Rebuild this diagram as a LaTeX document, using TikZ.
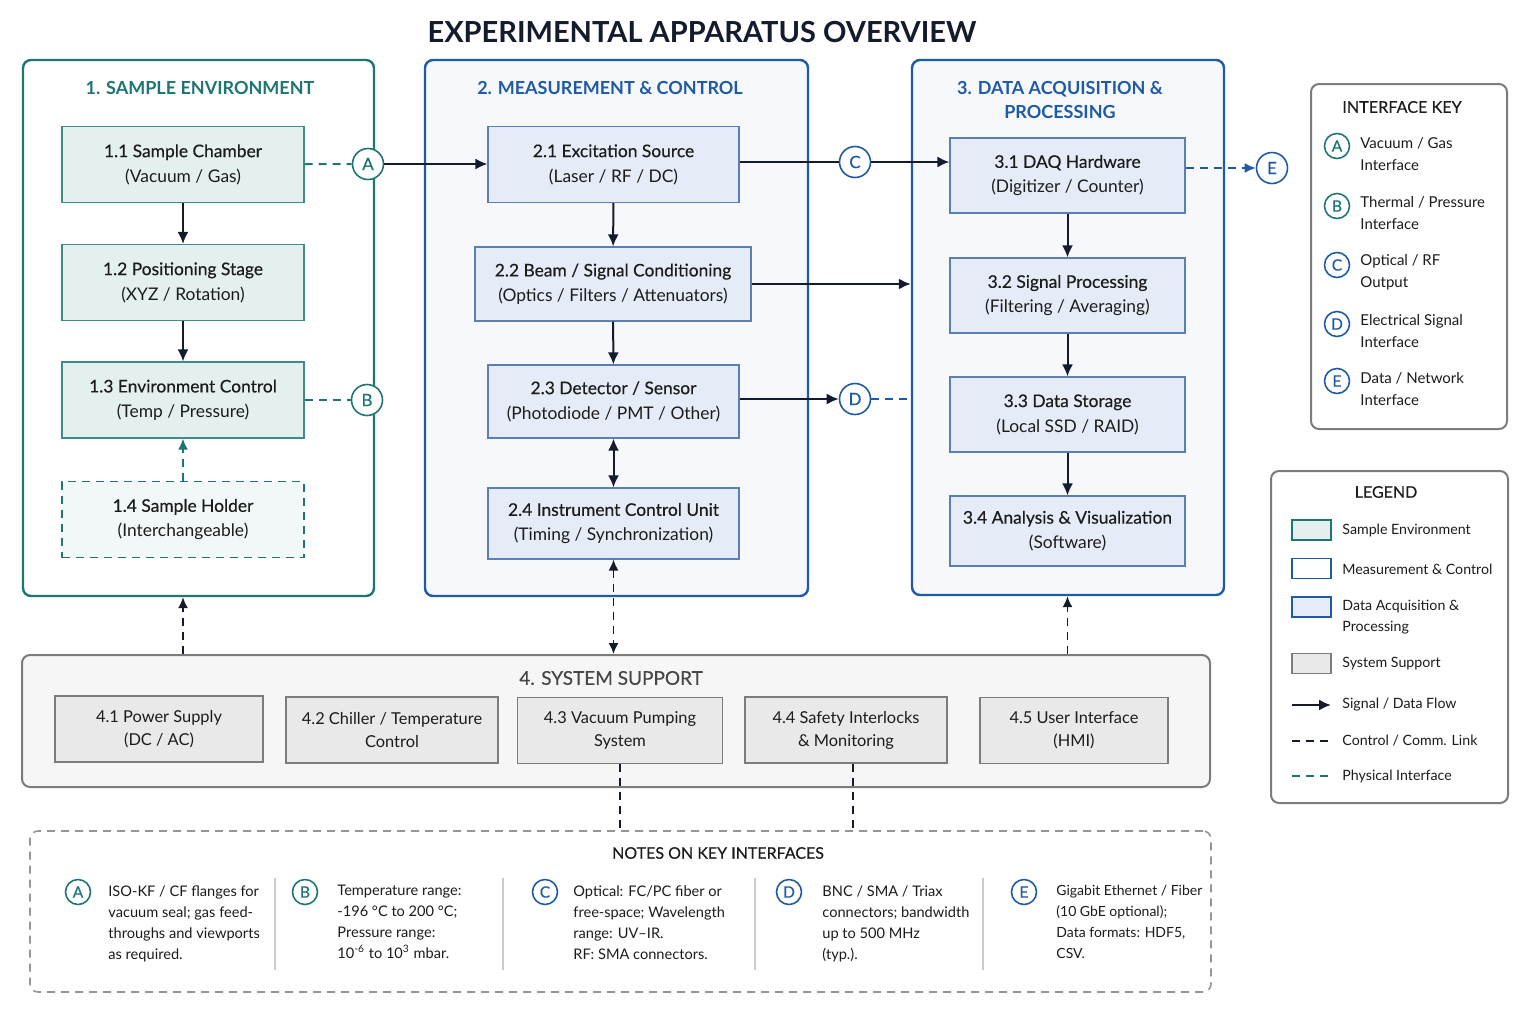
\documentclass[tikz,border=0pt]{standalone}
\usepackage{fontspec}
\setmainfont{Lato}
\newfontfamily\semib[FakeBold=0.4]{Lato}
\usetikzlibrary{arrows.meta,positioning}
\definecolor{tealc}{HTML}{1E7673}
\definecolor{tealfill}{HTML}{E3F0EF}
\definecolor{tealbd}{HTML}{3E8B88}
\definecolor{bluec}{HTML}{1F5AA6}
\definecolor{bluefill}{HTML}{E5ECF7}
\definecolor{bluebd}{HTML}{5B7FB4}
\definecolor{panel}{HTML}{F6F8FC}
\definecolor{grayc}{HTML}{7C7C7C}
\definecolor{grayfill}{HTML}{E9E9E9}
\definecolor{graypanel}{HTML}{F6F6F6}
\definecolor{ink}{HTML}{141B2D}
\definecolor{txt}{HTML}{1C1C1C}
\newcommand{\boxtxt}[2]{{\semib #1}\\#2}

\begin{document}
\begin{tikzpicture}[
  x=0.5pt,y=-0.5pt,
  font=\fontsize{8.7}{12.5}\selectfont,text=txt,
  grp/.style={draw,rounded corners=4pt,line width=1.2pt,inner sep=0pt},
  sebox/.style={draw=tealbd,fill=tealfill,line width=0.6pt,align=center,minimum width=121pt,minimum height=38pt,inner sep=0pt},
  mcbox/.style={draw=bluebd,fill=bluefill,line width=0.6pt,align=center,minimum width=125.5pt,minimum height=38pt,inner sep=0pt},
  dabox/.style={draw=bluebd,fill=bluefill,line width=0.6pt,align=center,minimum width=117.5pt,minimum height=37.5pt,inner sep=0pt},
  ssbox/.style={draw=grayc,fill=grayfill,line width=0.6pt,align=center,minimum height=33pt,inner sep=0pt,font=\fontsize{8.2}{11.5}\selectfont},
  ttl/.style={font=\bfseries\fontsize{9}{12}\selectfont},
  ifc/.style={circle,draw=#1,text=#1,fill=white,line width=0.8pt,minimum size=15.5pt,inner sep=0pt,font=\semib\fontsize{8.5}{10}\selectfont},
  smc/.style={ifc=#1,minimum size=12.5pt,font=\semib\fontsize{7.8}{9}\selectfont},
  note/.style={anchor=north west,align=left,inner sep=0pt,font=\fontsize{7.3}{10.5}\selectfont},
  keytxt/.style={anchor=west,align=left,inner sep=0pt,font=\fontsize{7.5}{11}\selectfont},
  lgtxt/.style={keytxt,font=\fontsize{7.1}{10.5}\selectfont},
  swatch/.style={line width=0.8pt,minimum width=19.5pt,minimum height=10pt,inner sep=0pt},
  ln/.style={draw=ink,line width=1pt},
  ar/.style={ln,-{Latex[length=6pt,width=5.5pt]}},
  dar/.style={ln,{Latex[length=6pt,width=5.5pt]}-{Latex[length=6pt,width=5.5pt]}},
  tip/.style={-{Latex[length=5.5pt,width=5pt]}},
  dtip/.style={{Latex[length=5.5pt,width=5pt]}-{Latex[length=5.5pt,width=5pt]}},
  ctl/.style={draw=ink,line width=0.8pt,dash pattern=on 4pt off 3pt},
  phys/.style={draw=tealc,line width=1pt,dash pattern=on 4pt off 3pt},
  bdash/.style={draw=bluec,line width=1pt,dash pattern=on 4pt off 3pt}
]
\fill[white] (0,0) rectangle (1536,1024);
\useasboundingbox (0,0) rectangle (1536,1024);

\node[font=\bfseries\fontsize{14.5}{17}\selectfont,text=ink] (title) at (702,32) {EXPERIMENTAL APPARATUS OVERVIEW};

% groups
\node[grp,draw=tealc,fill=white,minimum width=175.5pt,minimum height=268pt] (g1) at (198.5,328) {};
\node[grp,draw=bluec,fill=panel,minimum width=191.5pt,minimum height=268pt] (g2) at (616.5,328) {};
\node[grp,draw=bluec,fill=panel,minimum width=156pt,minimum height=267.5pt] (g3) at (1068,327.5) {};
\node[grp,draw=grayc,fill=graypanel,line width=1pt,minimum width=594pt,minimum height=66pt] (g4) at (616,721) {};
\node[grp,draw=grayc!80,fill=white,line width=0.8pt,dash pattern=on 4pt off 3pt,minimum width=590.5pt,minimum height=80.5pt] (nt) at (620.5,911.5) {};

\node[ttl,text=tealc] (t1) at (200,88) {1. SAMPLE ENVIRONMENT};
\node[ttl,text=bluec] (t2) at (610,88) {2. MEASUREMENT \& CONTROL};
\node[ttl,text=bluec,align=center] (t3) at (1060,100) {3. DATA ACQUISITION \&\\PROCESSING};
\node[font=\semib\fontsize{9.5}{12}\selectfont,text=black!72] (t4) at (611,678) {4. SYSTEM SUPPORT};

% 1. sample environment
\node[sebox] (se11) at (183,164.5) {\boxtxt{1.1 Sample Chamber}{(Vacuum / Gas)}};
\node[sebox] (se12) at (183,282.5) {\boxtxt{1.2 Positioning Stage}{(XYZ / Rotation)}};
\node[sebox] (se13) at (183,400) {\boxtxt{1.3 Environment Control}{(Temp / Pressure)}};
\node[sebox,draw=tealc,fill=tealfill!45,dash pattern=on 4pt off 3pt] (se14) at (183,519.5) {\boxtxt{1.4 Sample Holder}{(Interchangeable)}};

% 2. measurement & control
\node[mcbox] (mc21) at (613.5,164.5) {\boxtxt{2.1 Excitation Source}{(Laser / RF / DC)}};
\node[mcbox,minimum width=138pt,minimum height=37pt] (mc22) at (613,284) {\boxtxt{2.2 Beam / Signal Conditioning}{(Optics / Filters / Attenuators)}};
\node[mcbox,minimum height=36.5pt] (mc23) at (613.5,401.5) {\boxtxt{2.3 Detector / Sensor}{(Photodiode / PMT / Other)}};
\node[mcbox,minimum height=35.5pt] (mc24) at (613.5,523.5) {\boxtxt{2.4 Instrument Control Unit}{(Timing / Synchronization)}};

% 3. data acquisition
\node[dabox] (da31) at (1067.5,175.5) {\boxtxt{3.1 DAQ Hardware}{(Digitizer / Counter)}};
\node[dabox] (da32) at (1067.5,295.5) {\boxtxt{3.2 Signal Processing}{(Filtering / Averaging)}};
\node[dabox] (da33) at (1067.5,414.5) {\boxtxt{3.3 Data Storage}{(Local SSD / RAID)}};
\node[dabox,minimum height=35pt] (da34) at (1067.5,531) {\boxtxt{3.4 Analysis \& Visualization}{(Software)}};

% 4. system support
\node[ssbox,minimum width=104pt] (ss41) at (159,729) {4.1 Power Supply\\(DC / AC)};
\node[ssbox,minimum width=106pt] (ss42) at (392,730) {4.2 Chiller / Temperature\\Control};
\node[ssbox,minimum width=102.5pt] (ss43) at (620,730.5) {4.3 Vacuum Pumping\\System};
\node[ssbox,minimum width=101pt] (ss44) at (846,730) {4.4 Safety Interlocks\\\& Monitoring};
\node[ssbox,minimum width=94pt] (ss45) at (1074,730.5) {4.5 User Interface\\(HMI)};

% interface circles
\node[ifc=tealc] (cA) at (368,164) {A};
\node[ifc=tealc] (cB) at (367,400) {B};
\node[ifc=bluec] (cC) at (855,162) {C};
\node[ifc=bluec] (cD) at (855,399) {D};
\node[ifc=bluec] (cE) at (1272,168) {E};

% connectors
\draw[ar] (se11) -- (se12);
\draw[ar] (se12) -- (se13);
\draw[phys,tip] (se14) -- (se13);
\draw[phys] (se11) -- (cA);
\draw[phys] (se13) -- (cB);
\draw[ar] (cA) -- (cA -| mc21.west);
\draw[ar] (mc21) -- (mc22);
\draw[ar] (mc22) -- (mc23);
\draw[dar] (mc23) -- (mc24);
\draw[ln] (mc21.east |- cC) -- (cC);
\draw[ar] (cC) -- (cC -| da31.west);
\draw[ar] (mc22) -- (mc22 -| g3.west);
\draw[ar] (mc23.east |- cD) -- (cD);
\draw[bdash] (cD) -- (cD -| g3.west);
\draw[bdash,tip] (da31.east |- cE) -- (cE);
\draw[ar] (da31) -- (da32);
\draw[ar] (da32) -- (da33);
\draw[ar] (da33) -- (da34);
\draw[ctl,tip] (g4.north -| se11) -- (g1.south -| se11);
\draw[ctl,dtip] (mc24) -- (mc24 |- g4.north);
\draw[ctl,tip] (g4.north -| da33) -- (g3.south -| da33);
\draw[ctl] (ss43) -- (ss43 |- nt.north);
\draw[ctl] ([xshift=3.5pt]ss44.south) -- ([xshift=3.5pt]ss44.south |- nt.north);

% interface key
\node[grp,draw=grayc,fill=white,line width=1pt,minimum width=98pt,minimum height=172.5pt] (ik) at (1409,256.5) {};
\node[font=\semib\fontsize{8.1}{10}\selectfont] (ikt) at (1402,107) {INTERFACE KEY};
\node[smc=tealc] (kA) at (1337,146) {A};
\node[keytxt] at (1360,154) {Vacuum / Gas\\Interface};
\node[smc=tealc] (kB) at (1337,206) {B};
\node[keytxt] at (1360,213) {Thermal / Pressure\\Interface};
\node[smc=bluec] (kC) at (1337,265) {C};
\node[keytxt] at (1360,272) {Optical / RF\\Output};
\node[smc=bluec] (kD) at (1337,324) {D};
\node[keytxt] at (1360,331) {Electrical Signal\\Interface};
\node[smc=bluec] (kE) at (1337,381) {E};
\node[keytxt] at (1360,389) {Data / Network\\Interface};

% legend
\node[grp,draw=grayc,fill=white,line width=1pt,minimum width=118.5pt,minimum height=166pt] (lg) at (1389.5,637) {};
\node[font=\semib\fontsize{8}{10}\selectfont] (lgt) at (1386,492) {LEGEND};
\node[swatch,draw=tealc,fill=tealfill] (sw1) at (1311.5,530) {};
\node[lgtxt] (lg1) at (1342,530) {Sample Environment};
\node[swatch,draw=bluec,fill=white] (sw2) at (1311.5,568.5) {};
\node[lgtxt] (lg2) at (1342,569) {Measurement \& Control};
\node[swatch,draw=bluec,fill=bluefill] (sw3) at (1311.5,607) {};
\node[lgtxt] (lg3) at (1342,617) {Data Acquisition \&\\Processing};
\node[swatch,draw=grayc,fill=grayfill] (sw4) at (1311.5,663.5) {};
\node[lgtxt] (lg4) at (1342,664) {System Support};
\node[lgtxt] (lg5) at (1342,705) {Signal / Data Flow};
\node[lgtxt] (lg6) at (1342,741) {Control / Comm. Link};
\node[lgtxt] (lg7) at (1342,776) {Physical Interface};
\draw[ar] ([xshift=-25pt]lg5.west) -- ([xshift=-5.5pt]lg5.west);
\draw[ctl,line width=1pt] ([xshift=-25pt]lg6.west) -- ([xshift=-6.5pt]lg6.west);
\draw[phys] ([xshift=-25pt]lg7.west) -- ([xshift=-6.5pt]lg7.west);

% notes
\node[font=\semib\fontsize{8}{10}\selectfont] (ntt) at (718,853) {NOTES ON KEY INTERFACES};
\node[smc=tealc] (nA) at (78,892) {A};
\node[note] (nAt) at (108,885) {ISO-KF / CF flanges for\\vacuum seal; gas feed-\\throughs and viewports\\as required.};
\node[smc=tealc] (nB) at (305,892) {B};
\node[note] (nBt) at (337,885) {Temperature range:\\-196 °C to 200 °C;\\Pressure range:\\10\textsuperscript{-6} to 10\textsuperscript{3} mbar.};
\node[smc=bluec] (nC) at (545,892) {C};
\node[note] (nCt) at (573,885) {Optical: FC/PC fiber or\\free-space; Wavelength\\range: UV–IR.\\RF: SMA connectors.};
\node[smc=bluec] (nD) at (789,892) {D};
\node[note] (nDt) at (822,885) {BNC / SMA / Triax\\connectors; bandwidth\\up to 500 MHz\\(typ.).};
\node[smc=bluec] (nE) at (1024,892) {E};
\node[note,font=\fontsize{7}{10.5}\selectfont] (nEt) at (1056,885) {Gigabit Ethernet / Fiber\\(10 GbE optional);\\Data formats: HDF5,\\CSV.};
\draw[black!20,line width=0.6pt] (275,878) -- (275,970) (503,878) -- (503,970) (755,878) -- (755,970) (983,878) -- (983,970);
\end{tikzpicture}
\end{document}
